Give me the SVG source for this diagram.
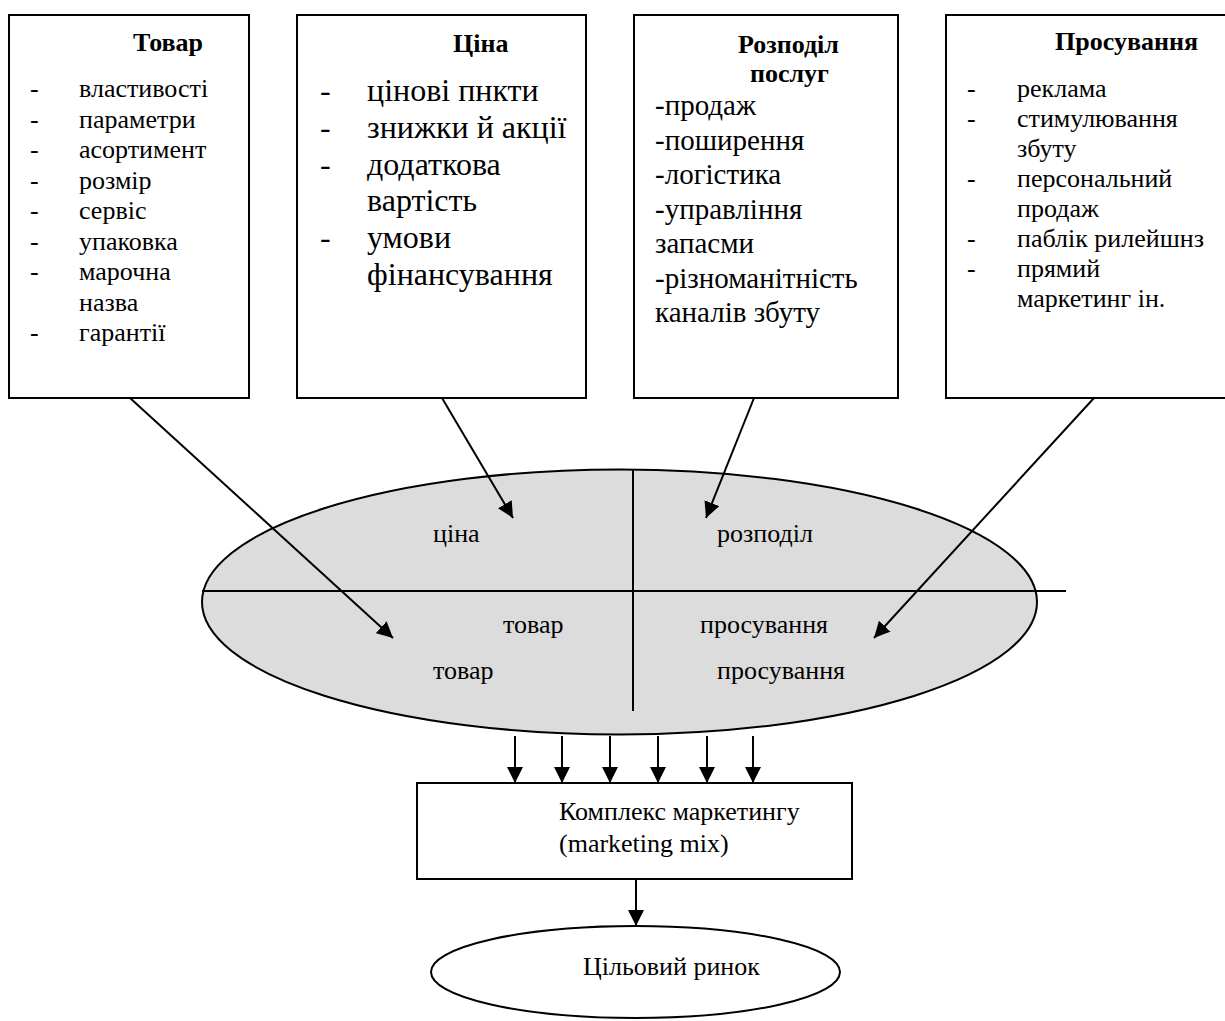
<svg xmlns="http://www.w3.org/2000/svg" width="1225" height="1021" viewBox="0 0 1225 1021">
<style>
text{font-family:"Liberation Serif","Times New Roman",serif;fill:#000}
.t{font-weight:bold;font-size:26px}
.i{font-size:26px}
.b{font-size:32px}
.m{font-size:29px}
.box{fill:#fff;stroke:#000;stroke-width:2}
.ln{stroke:#000;stroke-width:2;fill:none}
</style>
<defs>
<marker id="ah" viewBox="0 0 10 10" refX="10" refY="5" markerWidth="9" markerHeight="8" markerUnits="userSpaceOnUse" orient="auto">
<path d="M0,0 L10,5 L0,10 z" fill="#000"/>
</marker>
<marker id="ah2" viewBox="0 0 10 10" refX="10" refY="5" markerWidth="16" markerHeight="16" orient="auto" markerUnits="userSpaceOnUse">
<path d="M0,0 L10,5 L0,10 z" fill="#000"/>
</marker>
</defs>
<g id="node-tovar">
<rect class="box" x="9" y="15" width="240" height="383"/>
<text class="t" x="133" y="51">Товар</text>
<g class="i">
<text x="30" y="97">-</text><text x="79" y="97">властивості</text>
<text x="30" y="127.5">-</text><text x="79" y="127.5">параметри</text>
<text x="30" y="158">-</text><text x="79" y="158">асортимент</text>
<text x="30" y="188.5">-</text><text x="79" y="188.5">розмір</text>
<text x="30" y="219">-</text><text x="79" y="219">сервіс</text>
<text x="30" y="249.5">-</text><text x="79" y="249.5">упаковка</text>
<text x="30" y="280">-</text><text x="79" y="280">марочна</text>
<text x="79" y="310.5">назва</text>
<text x="30" y="341">-</text><text x="79" y="341">гарантії</text>
</g>
</g>
<g id="node-tsina">
<rect class="box" x="297" y="15" width="289" height="383"/>
<text class="t" x="453" y="52">Ціна</text>
<g class="b">
<text x="320" y="101">-</text><text x="367" y="101">цінові пнкти</text>
<text x="320" y="138">-</text><text x="367" y="138">знижки й акції</text>
<text x="320" y="175">-</text><text x="367" y="175">додаткова</text>
<text x="367" y="211">вартість</text>
<text x="320" y="248">-</text><text x="367" y="248">умови</text>
<text x="367" y="285">фінансування</text>
</g>
</g>
<g id="node-rozpodil">
<rect class="box" x="634" y="15" width="264" height="383"/>
<text class="t" x="738" y="53">Розподіл</text>
<text class="t" x="750" y="82">послуг</text>
<g class="m">
<text x="655" y="115">-продаж</text>
<text x="655" y="149.5">-поширення</text>
<text x="655" y="184">-логістика</text>
<text x="655" y="218.5">-управління</text>
<text x="655" y="253">запасми</text>
<text x="655" y="287.5">-різноманітність</text>
<text x="655" y="322">каналів збуту</text>
</g>
</g>
<g id="node-prosuvannia">
<rect class="box" x="946" y="15" width="290" height="383"/>
<text class="t" x="1055" y="50">Просування</text>
<g class="i">
<text x="967" y="97">-</text><text x="1017" y="97">реклама</text>
<text x="967" y="127">-</text><text x="1017" y="127">стимулювання</text>
<text x="1017" y="157">збуту</text>
<text x="967" y="187">-</text><text x="1017" y="187">персональний</text>
<text x="1017" y="217">продаж</text>
<text x="967" y="247">-</text><text x="1017" y="247">паблік рилейшнз</text>
<text x="967" y="277">-</text><text x="1017" y="277">прямий</text>
<text x="1017" y="307">маркетинг ін.</text>
</g>
</g>
<g id="node-mix4p">
<ellipse cx="619.5" cy="602" rx="417.5" ry="132.5" fill="#dcdcdc" stroke="#000" stroke-width="2"/>
<line class="ln" x1="202" y1="591" x2="1066" y2="591"/>
<line class="ln" x1="633" y1="470" x2="633" y2="711"/>
<g class="i">
<text x="433" y="542">ціна</text>
<text x="717" y="542">розподіл</text>
<text x="503" y="633">товар</text>
<text x="700" y="633">просування</text>
<text x="433" y="679">товар</text>
<text x="717" y="679">просування</text>
</g>
</g>
<g id="node-kompleks">
<rect class="box" x="417" y="783" width="435" height="96"/>
<text class="i" x="559" y="820">Комплекс маркетингу</text>
<text class="i" x="559" y="852">(marketing mix)</text>
</g>
<g id="node-rynok">
<ellipse cx="635.5" cy="972" rx="204.5" ry="46" fill="#fff" stroke="#000" stroke-width="2"/>
<text class="i" x="583" y="975">Цільовий ринок</text>
</g>
<g id="connectors" class="ln">
<line x1="130" y1="398" x2="393" y2="638" marker-end="url(#ah2)"/>
<line x1="442" y1="398" x2="513" y2="518" marker-end="url(#ah2)"/>
<line x1="754" y1="398" x2="706" y2="518" marker-end="url(#ah2)"/>
<line x1="1094" y1="398" x2="874" y2="638" marker-end="url(#ah2)"/>
<line x1="515" y1="736" x2="515" y2="783" marker-end="url(#ah2)"/>
<line x1="562" y1="736" x2="562" y2="783" marker-end="url(#ah2)"/>
<line x1="610" y1="736" x2="610" y2="783" marker-end="url(#ah2)"/>
<line x1="658" y1="736" x2="658" y2="783" marker-end="url(#ah2)"/>
<line x1="707" y1="736" x2="707" y2="783" marker-end="url(#ah2)"/>
<line x1="753" y1="736" x2="753" y2="783" marker-end="url(#ah2)"/>
<line x1="636" y1="879" x2="636" y2="926" marker-end="url(#ah2)"/>
</g>
</svg>
